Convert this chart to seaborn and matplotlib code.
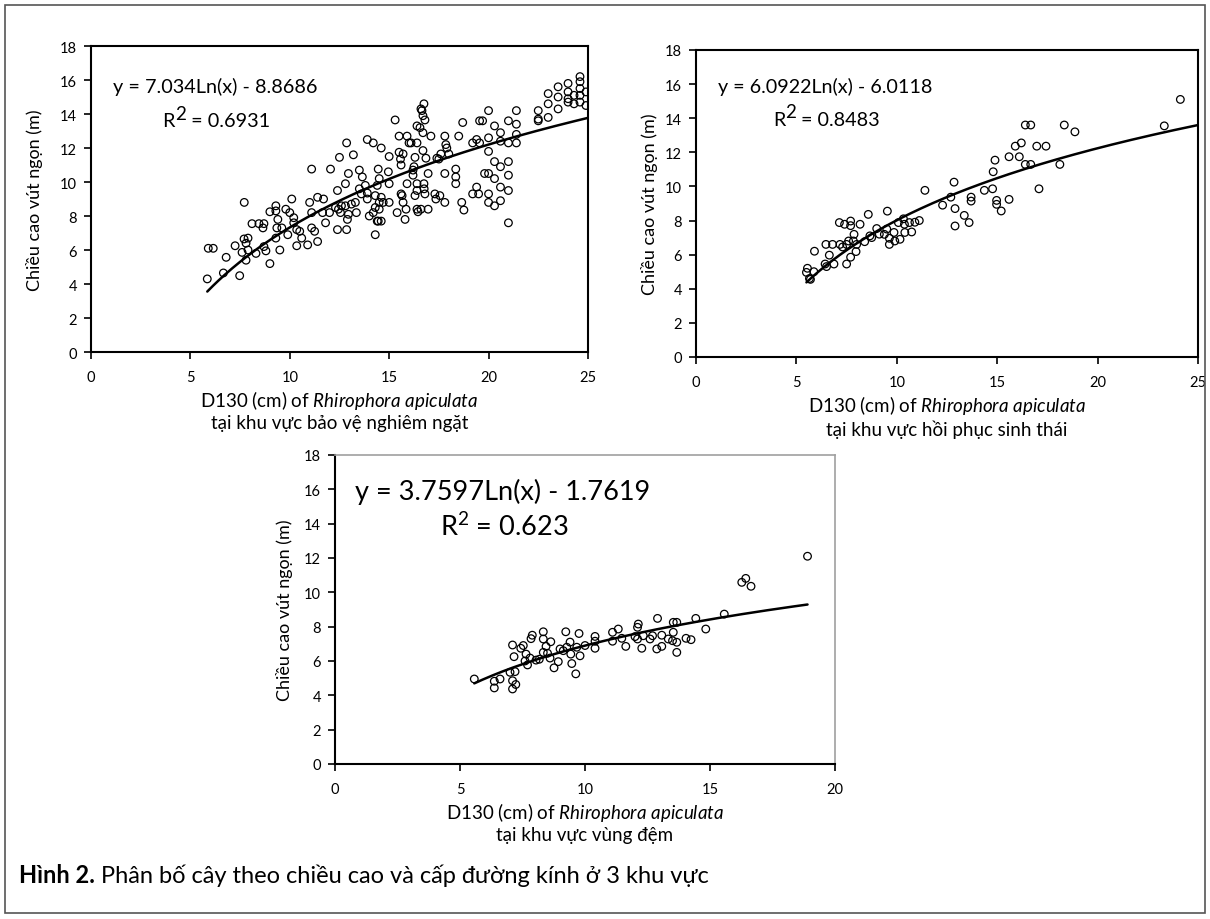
import matplotlib
matplotlib.use("Agg")
import numpy as np
import matplotlib.pyplot as plt
from matplotlib.patches import Rectangle
import seaborn as sns

sns.set_theme(style="white", rc={"text.color": "black", "axes.labelcolor": "black",
                                 "xtick.color": "black", "ytick.color": "black"})
plt.rcParams["font.family"] = ["Lato", "DejaVu Sans"]
plt.rcParams.update({"mathtext.fontset": "custom", "mathtext.rm": "Lato",
                     "mathtext.it": "Lato:italic", "mathtext.bf": "Lato:bold"})

# %% — Data: panel 1 (bảo vệ nghiêm ngặt)
x1 = [7.71, 5.85, 5.9, 6.15, 6.8, 6.66, 7.25, 7.48, 7.7, 7.9, 7.8, 7.6, 7.9, 7.8, 8.1, 8.45, 8.7,
      8.65, 8.3, 8.7, 8.8, 9.0, 9.5, 9.0, 9.3, 9.3, 9.4, 9.35, 9.6, 9.8, 9.9, 10.0, 9.3,
      10.1, 10.2, 10.2, 10.35, 10.5, 10.6, 10.35, 10.9, 11.1, 11.0, 11.1, 11.1, 11.25, 11.4, 11.4,
      11.7, 11.65, 12.0, 11.8, 12.05, 12.5, 12.4, 12.3, 12.45, 12.6, 12.55, 12.4, 12.86, 12.9, 12.95,
      12.8, 13.1, 13.3, 13.35, 12.8, 12.95, 12.86, 13.2, 13.5, 13.65, 13.5, 13.6, 13.9, 13.9, 13.8,
      13.9, 14.2, 14.0, 14.2, 14.3, 14.4, 14.5, 14.6, 14.3, 14.4, 14.45, 14.5, 14.3, 14.45, 14.6,
      14.5, 14.6, 14.7, 15.0, 15.0, 14.96, 15.0, 15.3, 15.4, 15.5, 15.5, 15.57, 15.6, 15.7, 15.6,
      15.65, 15.7, 15.8, 15.85, 15.9, 15.9, 16.0, 16.1, 16.4, 16.2, 16.2, 16.25, 16.3, 16.4, 16.4,
      16.3, 16.4, 16.45, 16.4, 16.55, 16.6, 16.65, 16.7, 16.8, 16.75, 16.7, 16.7, 16.75, 16.76,
      16.8, 16.96, 16.6, 16.85, 16.96, 17.1, 17.3, 17.55, 17.35, 17.8, 17.4, 17.5, 17.6, 17.8,
      17.85, 17.9, 18.0, 17.8, 18.35, 18.35, 18.35, 18.5, 18.65, 18.76, 18.7, 19.2, 19.5, 19.4,
      19.2, 19.4, 19.55, 19.55, 19.7, 19.8,
      20.0, 20.0, 20.0, 20.0, 20.0, 20.0, 20.3, 20.3, 20.3, 20.3, 20.6, 20.6, 20.6, 20.6, 20.6,
      21.0, 21.0, 21.0, 21.0, 21.0, 21.0, 21.4, 21.4, 21.4, 21.4, 22.5, 22.5, 22.5, 23.0, 23.0,
      23.0, 23.5, 23.5, 23.5, 24.0, 24.0, 24.0, 24.0, 24.3, 24.3, 24.6, 24.6, 24.6, 24.6, 24.6,
      24.9, 24.9]
y1 = [8.8, 4.3, 6.1, 6.1, 5.57, 4.65, 6.25, 4.49, 6.65, 6.7, 6.4, 5.86, 6.0, 5.4, 7.55, 7.55, 7.55,
      7.3, 5.8, 6.2, 5.95, 5.2, 6.0, 8.25, 8.6, 8.3, 7.8, 7.3, 7.3, 8.4, 6.9, 8.2, 6.7,
      9.0, 7.9, 7.6, 7.2, 7.1, 6.7, 6.25, 6.3, 10.76, 8.8, 8.2, 7.3, 7.1, 6.5, 9.1,
      9.0, 8.2, 8.2, 7.6, 10.76, 11.45, 9.5, 8.5, 8.4, 8.6, 8.2, 7.2, 7.2, 7.8, 8.1,
      8.6, 8.7, 8.8, 8.2, 9.9, 10.5, 12.3, 11.6, 10.7, 10.3, 9.6, 9.3, 9.0, 9.35, 9.8,
      12.5, 12.3, 8.0, 8.2, 8.5, 7.7, 8.8, 9.1, 9.2, 9.8, 10.76, 10.2, 6.9, 7.7, 7.7,
      8.4, 12.0, 8.8, 8.8, 9.9, 10.6, 11.5, 13.65, 8.2, 12.7, 11.75, 11.35, 11.0, 11.65, 9.3,
      9.2, 8.8, 7.8, 8.4, 9.9, 12.7, 12.3, 12.3, 12.3, 10.7, 10.4, 10.9, 11.45, 9.9, 9.5,
      9.2, 8.4, 8.25, 13.3, 13.2, 14.3, 14.2, 13.9, 13.65, 14.6, 12.9, 11.85, 9.9, 9.6,
      9.3, 8.4, 8.4, 11.4, 10.5, 12.7, 9.3, 9.2, 9.0, 8.8, 11.4, 11.35, 11.65, 12.7,
      12.2, 12.0, 11.65, 10.5, 10.76, 10.3, 9.9, 12.7, 8.8, 8.35, 13.5, 9.3, 9.3, 9.7,
      12.3, 12.5, 12.3, 13.6, 13.6, 10.5,
      14.2, 12.6, 11.8, 10.5, 9.3, 8.8, 13.3, 11.2, 10.2, 8.6, 12.9, 12.4, 10.9, 9.7, 8.9,
      13.6, 12.3, 11.2, 10.4, 9.5, 7.6, 13.4, 12.8, 12.3, 14.2, 13.6, 14.2, 13.7, 14.6, 15.2,
      13.8, 15.6, 14.3, 15.0, 14.9, 15.3, 14.7, 15.8, 15.1, 14.6, 16.2, 15.9, 15.5, 15.1, 14.7,
      15.3, 14.5]

# %% — Data: panel 2 (hồi phục sinh thái)
x2 = [5.55, 5.5, 5.65, 5.7, 5.87, 5.9, 6.43, 6.5, 6.87, 6.64, 6.47, 6.8, 7.17, 7.14, 7.4, 7.7, 7.7,
      8.17, 7.3, 7.5, 7.6, 7.84, 8.0, 7.5, 7.7, 7.97, 7.87, 8.4, 8.66, 8.75, 9.0, 8.58, 9.53, 9.13,
      9.38, 9.5, 9.63, 9.63, 9.86, 9.9, 10.16, 10.08, 10.33, 10.38, 10.63, 10.9, 11.12, 10.4, 10.74,
      11.4, 12.28, 12.69, 12.85, 12.9, 12.9, 13.36, 13.6, 13.7, 13.7, 14.36, 14.77, 14.89, 14.8,
      14.97, 14.97, 15.2, 15.59, 15.59, 15.9, 16.1, 16.2, 16.4, 16.67, 16.4, 16.67, 16.97, 17.43,
      17.08, 18.12, 18.34, 18.87, 23.32, 24.12]
y2 = [5.2, 4.96, 4.6, 4.55, 5.0, 6.2, 5.45, 5.3, 5.45, 5.97, 6.6, 6.6, 6.6, 7.88, 7.78, 7.97, 7.7,
      7.78, 6.45, 6.6, 6.8, 6.8, 6.6, 5.45, 5.85, 6.18, 7.19, 6.76, 7.1, 7.0, 7.53, 8.36, 8.55, 7.2,
      7.19, 7.5, 6.96, 6.6, 7.3, 6.8, 6.9, 7.88, 8.1, 7.78, 7.88, 7.9, 8.0, 7.3, 7.33,
      9.77, 8.9, 9.37, 10.25, 8.7, 7.68, 8.3, 7.88, 9.37, 9.14, 9.77, 9.86, 11.54, 10.86,
      9.18, 8.95, 8.56, 9.24, 11.74, 12.36, 11.74, 12.55, 13.6, 13.6, 11.29, 11.29, 12.36, 12.36,
      9.86, 11.29, 13.6, 13.2, 13.55, 15.1]

# %% — Data: panel 3 (vùng đệm)
x3 = [5.57, 6.37, 6.6, 6.37, 7.0, 7.1, 7.2, 7.23, 7.1, 7.1, 7.16, 7.43, 7.53, 7.64, 7.6, 7.7, 7.8,
      7.89, 7.84, 8.04, 8.17, 8.33, 8.33, 8.44, 8.63, 8.33, 8.5, 8.6, 8.76, 8.93, 9.0, 9.13, 9.23,
      9.27, 9.4, 9.43, 9.47, 9.63, 9.67, 9.76, 9.8, 10.0, 10.4, 10.4, 10.4, 11.1, 11.1, 11.33,
      11.47, 11.63, 12.0, 12.1, 12.13, 12.1, 12.27, 12.33, 12.6, 12.7, 12.9, 12.87, 13.07, 13.07,
      13.33, 13.5, 13.53, 13.53, 13.67, 13.67, 13.67, 14.04, 14.24, 14.43, 14.83, 15.57, 16.27,
      16.43, 16.64, 18.9]
y3 = [4.95, 4.82, 4.95, 4.43, 5.34, 4.85, 5.38, 4.63, 4.37, 6.93, 6.25, 6.74, 6.9, 6.4, 6.0, 5.77,
      6.17, 7.5, 7.3, 6.05, 6.1, 7.7, 7.28, 6.85, 7.12, 6.5, 6.45, 6.17, 5.6, 5.96, 6.7, 6.6, 7.7,
      6.8, 7.1, 6.4, 5.85, 5.25, 6.8, 7.6, 6.3, 6.9, 7.43, 6.74, 7.15, 7.67, 7.15, 7.86,
      7.32, 6.85, 7.42, 7.96, 8.15, 7.28, 6.74, 7.47, 7.28, 7.47, 8.48, 6.7, 6.85, 7.5,
      7.28, 7.18, 7.67, 8.25, 8.25, 7.09, 6.5, 7.32, 7.24, 8.48, 7.86, 8.73, 10.58,
      10.81, 10.35, 12.1]

# trendline coefficients, as printed on the chart (y = a*Ln(x) + b)
coef_a = [7.034, 6.0922, 3.7597]
coef_b = [-8.8686, -6.0118, -1.7619]
trend_end = [25, 25, 18.9]
equations = ["y = 7.034Ln(x) - 8.8686", "y = 6.0922Ln(x) - 6.0118", "y = 3.7597Ln(x) - 1.7619"]
r2_values = ["0.6931", "0.8483", "0.623"]
regions = ["tại khu vực bảo vệ nghiêm ngặt", "tại khu vực hồi phục sinh thái", "tại khu vực vùng đệm"]
x_limits = [25, 25, 20]

# %% — Figure
fig = plt.figure(figsize=(12.1, 9.2), dpi=100)
fig.add_artist(Rectangle((0.004, 0.006), 0.992, 0.988, transform=fig.transFigure,
                         fill=False, ec="#555555", lw=1.2))

boxes = [[0.0752, 0.6163, 0.4107, 0.3326],
         [0.5752, 0.6109, 0.4149, 0.3337],
         [0.2769, 0.1685, 0.4132, 0.3359]]
eq_pos = [(0.044, 0.869, 0.143, 0.755, 14.3),
          (0.044, 0.883, 0.153, 0.775, 14.2),
          (0.040, 0.883, 0.210, 0.770, 19.5)]
ylab_pad = [12, 5, 8]

data = [(x1, y1), (x2, y2), (x3, y3)]
axes = []
for i, (xs, ys) in enumerate(data):
    ax = fig.add_axes(boxes[i])
    axes.append(ax)
    sns.scatterplot(x=xs, y=ys, ax=ax, marker="o", s=30, facecolors="none",
                    edgecolor="black", linewidth=0.9, zorder=3)
    xfit = np.linspace(min(xs), trend_end[i], 200)
    sns.lineplot(x=xfit, y=coef_a[i] * np.log(xfit) + coef_b[i], ax=ax,
                 color="black", lw=1.8, zorder=4)

    ax.set_xlim(0, x_limits[i])
    ax.set_ylim(0, 18)
    ax.set_xticks(range(0, x_limits[i] + 1, 5))
    ax.set_yticks(range(0, 19, 2))
    ax.tick_params(bottom=True, left=True, direction="out", length=5, width=1.2,
                   labelsize=10.5, pad=5)
    ax.tick_params(axis="x", pad=8)
    for name, sp in ax.spines.items():
        sp.set_linewidth(1.5)
        sp.set_color("black")
    if i == 2:
        ax.spines["top"].set_color("#a0a0a0")
        ax.spines["right"].set_color("#a0a0a0")
        ax.spines["top"].set_linewidth(1.2)
        ax.spines["right"].set_linewidth(1.2)

    ax.set_ylabel("Chiều cao vút ngọn (m)", fontsize=13, labelpad=ylab_pad[i])
    ax.set_xlabel("D130 (cm) of $\\mathit{Rhirophora\\ apiculata}$\n" + regions[i],
                  fontsize=13.5, linespacing=1.2, labelpad=3)

    ex, ey, rx, ry, fs = eq_pos[i]
    ax.text(ex, ey, equations[i], transform=ax.transAxes, fontsize=fs, va="center", ha="left")
    if i < 2:
        # Excel-style R² with a full-size raised "2"
        t_r = ax.text(rx, ry, "R", transform=ax.transAxes, fontsize=fs, va="center", ha="left")
        t_2 = ax.annotate("2", xy=(1.02, 0.42), xycoords=t_r, fontsize=fs * 0.95,
                          va="bottom", ha="left")
        ax.annotate(" = " + r2_values[i], xy=(1, 0), xycoords=(t_2, t_r), fontsize=fs,
                    va="bottom", ha="left")
    else:
        ax.text(rx, ry, "R$^2$ = " + r2_values[i], transform=ax.transAxes, fontsize=fs,
                va="center", ha="left")

# %% — Caption
cap = fig.text(0.016, 0.036, "Hình 2.", fontsize=17, fontweight="bold", va="bottom", ha="left")
axes[2].annotate(" Phân bố cây theo chiều cao và cấp đường kính ở 3 khu vực", xy=(1, 0),
                 xycoords=cap, fontsize=17, va="bottom", ha="left", annotation_clip=False)

plt.savefig("out.png", dpi=100)
plt.close()
